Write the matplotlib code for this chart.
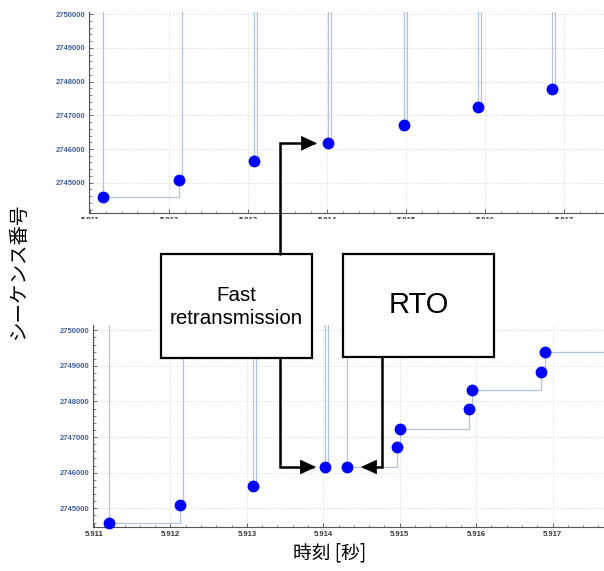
import matplotlib
matplotlib.use("Agg")
import matplotlib.pyplot as plt
from matplotlib.patches import Rectangle, FancyArrowPatch
from matplotlib.path import Path
from matplotlib.ticker import MultipleLocator, FuncFormatter

# 上段: 高速再送の前
t_top = [5.91117, 5.91212, 5.91307, 5.91401, 5.91497, 5.91591, 5.91685]
seq_top = [2744570, 2745080, 2745644, 2746179, 2746713, 2747248, 2747782]
link_top = ["step", "spike", "spike", "spike", "spike", "spike", "spike"]

# 下段: 高速再送 + RTO
t_bot = [5.91119, 5.91213, 5.91308, 5.91402, 5.91431, 5.91496,
         5.91501, 5.91590, 5.91595, 5.91685, 5.91690]
seq_bot = [2744596, 2745101, 2745635, 2746160, 2746160, 2746713,
           2747219, 2747781, 2748315, 2748837, 2749382]
link_bot = ["step", "spike", "spike", "spike", "step", "step",
            "step", "step", "step", "step", "step"]

xticks = [5.911, 5.912, 5.913, 5.914, 5.915, 5.916, 5.917]
yticks = [2745000, 2746000, 2747000, 2748000, 2749000, 2750000]

W, H = 604, 571
HI = 2760000     # 画面外の値
DT = 0.00004     # 2本線の間隔
T_END = 5.9185

plt.rcParams['font.family'] = ['Liberation Sans', 'DejaVu Sans']
fig = plt.figure(figsize=(W / 100, H / 100), dpi=100)


def fx(px):
    return px / W


def fy(py):
    return 1 - py / H


def build_line(t, s, links):
    # ウィンドウ線のような折れ線を作る
    xs, ys = [t[0], t[0]], [HI, s[0]]
    for i in range(len(t)):
        nxt_t = t[i + 1] if i + 1 < len(t) else None
        if links[i] == "step":
            tt = nxt_t if nxt_t is not None else T_END
            xs += [tt]
            ys += [s[i]]
            if nxt_t is not None:
                xs += [tt]
                ys += [s[i + 1]]
        else:
            xs += [t[i] + DT, t[i] + DT]
            ys += [s[i], HI]
            if nxt_t is not None:
                xs += [nxt_t, nxt_t]
                ys += [HI, s[i + 1]]
    return xs, ys


def style_axes(ax, xlim, ylim):
    ax.set_xlim(*xlim)
    ax.set_ylim(*ylim)
    ax.set_xticks(xticks)
    ax.set_yticks(yticks)
    ax.xaxis.set_minor_locator(MultipleLocator(0.0002))
    ax.yaxis.set_minor_locator(MultipleLocator(200))
    ax.xaxis.set_major_formatter(FuncFormatter(lambda v, p: f"{v:.3f}"))
    ax.yaxis.set_major_formatter(FuncFormatter(lambda v, p: f"{int(round(v))}"))
    for sp in ["top", "right"]:
        ax.spines[sp].set_visible(False)
    for sp in ["left", "bottom"]:
        ax.spines[sp].set_color("#555555")
        ax.spines[sp].set_linewidth(0.8)
    ax.tick_params(which="major", direction="in", length=3, width=0.6,
                   color="#555555", labelsize=5.5, pad=2.5)
    ax.tick_params(which="minor", direction="in", length=1.8, width=0.5,
                   color="#555555")
    for lab in ax.get_yticklabels():
        lab.set_color("#42609a")
        lab.set_fontweight("bold")
    for lab in ax.get_xticklabels():
        lab.set_color("#333333")
        lab.set_fontweight("bold")
    ax.grid(True, which="major", color="#dedede", linestyle=(0, (2, 2)),
            linewidth=0.6)
    ax.set_axisbelow(True)


ax_top = fig.add_axes([fx(89), fy(213.3), (W - 89) / W, (213.3 - 12) / H])
ax_bot = fig.add_axes([fx(93.3), fy(527.3), (W - 93.3) / W, (527.3 - 325) / H])

style_axes(ax_top, (5.910987, 5.917506), (2744091, 2750068))
style_axes(ax_bot, (5.91099, 5.917673), (2744466, 2750149))

for ax, t, s, links in [(ax_top, t_top, seq_top, link_top),
                        (ax_bot, t_bot, seq_bot, link_bot)]:
    lx, ly = build_line(t, s, links)
    ax.plot(lx, ly, color="#b3c3da", lw=0.9, zorder=2)
    ax.plot(t, s, "o", color="#0000ff", markersize=7.5, zorder=3,
            clip_on=False)

# 上段の目盛りラベルの下側を切り取る
fig.add_artist(Rectangle((fx(40), fy(245)), (W - 40) / W, (245 - 218.5) / H,
                         transform=fig.transFigure, facecolor="white",
                         edgecolor="none", zorder=1))

# 注釈の箱
fig.add_artist(Rectangle((fx(160.7), fy(358.3)), (312.3 - 160.7) / W,
                         (358.3 - 254) / H, transform=fig.transFigure,
                         facecolor="white", edgecolor="black", lw=1.6, zorder=5))
fig.add_artist(Rectangle((fx(343.3), fy(357.3)), (494.3 - 343.3) / W,
                         (357.3 - 254) / H, transform=fig.transFigure,
                         facecolor="white", edgecolor="black", lw=1.6, zorder=5))
fig.text(fx(236.5), fy(307), "Fast\nretransmission", ha="center", va="center",
         fontsize=14.8, linespacing=1.3, zorder=6)
fig.text(fx(419), fy(305), "RTO", ha="center", va="center", fontsize=21,
         zorder=6)

# 矢印
arrows = [
    [(280, 254), (280, 143.3), (317, 143.3)],
    [(280, 358.3), (280, 467), (316, 467)],
    [(381.7, 357.3), (381.7, 467), (361, 467)],
]
for pts in arrows:
    verts = [(fx(x), fy(y)) for x, y in pts]
    ap = FancyArrowPatch(path=Path(verts),
                         arrowstyle="-|>,head_length=0.6,head_width=0.28",
                         mutation_scale=14, lw=1.8, color="black",
                         joinstyle="miter", transform=fig.transFigure,
                         zorder=6)
    fig.add_artist(ap)

cjk = ['Noto Sans CJK JP', 'DejaVu Sans']
fig.text(fx(18), fy(271), "シーケンス番号", rotation=90, ha="center",
         va="center", fontsize=14, family=cjk)
fig.text(fx(330), fy(553), "時刻 [秒]", ha="center", va="center",
         fontsize=13.5, family=cjk)

fig.savefig("out.png", dpi=100)
